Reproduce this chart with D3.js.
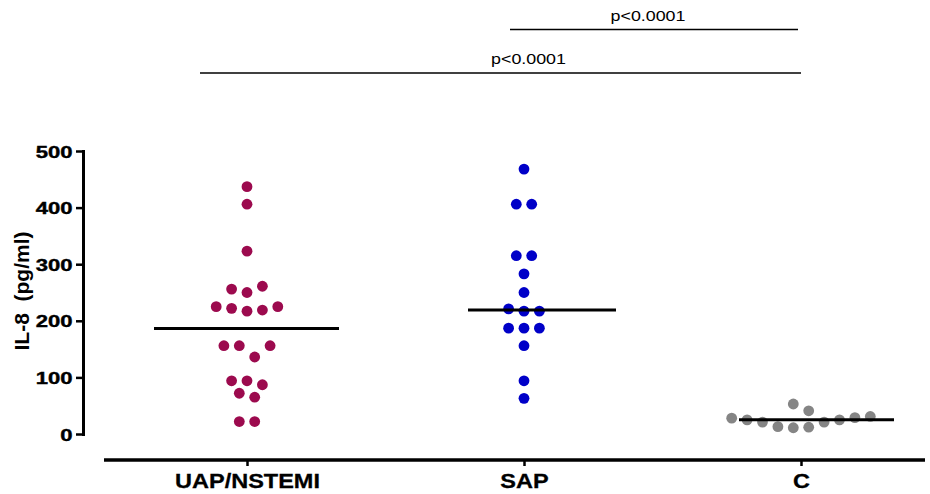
<!DOCTYPE html>
<html>
<head>
<meta charset="utf-8">
<script src="https://cdn.jsdelivr.net/npm/d3@7"></script>
<style>
  html, body { margin: 0; padding: 0; background: #fff; }
  svg { display: block; font-family: 'Liberation Sans', Arial, sans-serif; }
</style>
</head>
<body>
<div id="chart"></div>
<script>
// values, IL-8 in pg/ml
const groups = ['UAP/NSTEMI', 'SAP', 'C'];
const uapValues = [437, 406, 323, 256, 250, 261, 225, 222, 217, 219, 225, 156, 156, 136, 156, 94, 94, 72, 65, 87, 22, 22];
const sapValues = [468, 406, 406, 315, 315, 283, 250, 221, 217, 217, 187, 187, 187, 156, 94, 63];
const cValues = [28, 25, 21, 13, 11, 12, 21, 25, 29, 31, 53, 41];
const yTicks = [0, 100, 200, 300, 400, 500];
const yLabel = 'IL-8  (pg/ml)';
const comparisons = [
  {from: 'SAP', to: 'C', label: 'p<0.0001'},
  {from: 'UAP/NSTEMI', to: 'C', label: 'p<0.0001'}
];

const groupValues = [uapValues, sapValues, cValues];
const groupColors = ['#9c0a4e', '#0000c8', '#858585'];

const width = 930;
const height = 494;
const dotRadius = 5.4;
const dotStep = 7.7;   // half the gap between neighbours in one row
const rowSpan = 12;    // points closer than this (px) share a row

// how far each median line reaches left / right of its column
const medianReach = [[93, 92], [56, 92], [62, 93]];
// bracket placement: line height, end pads, label shift
const bracketLayout = [
  {y: 29.5, padL: -14, padR: -3, shift: -6},
  {y: 73, padL: -47, padR: 0, shift: 28}
];

let svg = d3.select('#chart').append('svg')
  .attr('width', width)
  .attr('height', height)

let y = d3.scaleLinear()
  .domain([0, 500])
  .range([434, 151])

let x = d3.scalePoint()
  .domain(groups)
  .range([247, 801])

// y axis
let yAxis = svg.append('g')
  .attr('transform', 'translate(83,0)')
  .call(d3.axisLeft(y).tickValues(yTicks).tickSize(7).tickSizeOuter(0))

yAxis.select('.domain')
  .attr('stroke-width', 3)
  .attr('stroke-linecap', 'square')
yAxis.selectAll('.tick line').attr('stroke-width', 2.5)
yAxis.selectAll('.tick text')
  .attr('x', -10.5 / 1.3)
  .attr('dy', '0.36em')
  .attr('transform', 'scale(1.3,1)')
  .style('font-family', "'Liberation Sans', Arial, sans-serif")
  .style('font-size', '17px')
  .style('font-weight', 'bold')
  .attr('fill', '#000')
  .attr('stroke', '#000')
  .attr('stroke-width', 0.4)

svg.append('text')
  .attr('transform', 'translate(28.5,291) rotate(-90)')
  .attr('text-anchor', 'middle')
  .style('font-size', '21px')
  .style('font-weight', 'bold')
  .style('white-space', 'pre')
  .text(yLabel)

// x axis
let xAxis = svg.append('g')
  .attr('transform', 'translate(0,460)')
  .call(d3.axisBottom(x).tickSize(6).tickSizeOuter(0))

xAxis.select('.domain')
  .attr('d', 'M104,0H925')
  .attr('stroke-width', 3.5)
xAxis.selectAll('.tick line').attr('stroke-width', 2.5)
xAxis.selectAll('.tick text')
  .attr('y', 28)
  .attr('dy', 0)
  .attr('transform', 'scale(1.12,1)')
  .style('font-family', "'Liberation Sans', Arial, sans-serif")
  .style('font-size', '21px')
  .style('font-weight', 'bold')
  .attr('fill', '#000')
  .attr('stroke', '#000')
  .attr('stroke-width', 0.3)

// column scatter: rows of near-equal values spread around the column centre
let swarm = (values, cx) => {
  let order = d3.range(values.length).sort((a, b) => values[b] - values[a] || a - b);
  let rows = [];
  let row = null;
  order.forEach(i => {
    if (!row || y(values[i]) - y(values[row[0]]) >= rowSpan) {
      row = [i];
      rows.push(row);
    } else {
      row.push(i);
    }
  });
  let out = [];
  rows.forEach(r => {
    r.sort((a, b) => a - b);
    r.forEach((i, k) => out.push({value: values[i], x: cx + (2 * k - (r.length - 1)) * dotStep}));
  });
  return out;
}

groups.forEach((g, gi) => {
  let pts = swarm(groupValues[gi], x(g));

  svg.append('g').selectAll('circle').data(pts)
    .enter().append('circle')
      .attr('cx', d => d.x)
      .attr('cy', d => y(d.value))
      .attr('r', dotRadius)
      .attr('fill', groupColors[gi])

  let med = d3.median(groupValues[gi]);
  svg.append('line')
    .attr('x1', x(g) - medianReach[gi][0])
    .attr('x2', x(g) + medianReach[gi][1])
    .attr('y1', y(med))
    .attr('y2', y(med))
    .attr('stroke', '#000')
    .attr('stroke-width', 3)
})

// significance brackets
comparisons.forEach((c, i) => {
  let b = bracketLayout[i];
  let x1 = x(c.from) + b.padL;
  let x2 = x(c.to) + b.padR;
  svg.append('line')
    .attr('x1', x1)
    .attr('x2', x2)
    .attr('y1', b.y)
    .attr('y2', b.y)
    .attr('stroke', '#000')
    .attr('stroke-width', 1.3)

  svg.append('text')
    .attr('transform', `translate(${(x1 + x2) / 2 + b.shift},${b.y - 9}) scale(1.19,1)`)
    .attr('text-anchor', 'middle')
    .style('font-size', '15px')
    .text(c.label)
})
</script>
</body>
</html>
